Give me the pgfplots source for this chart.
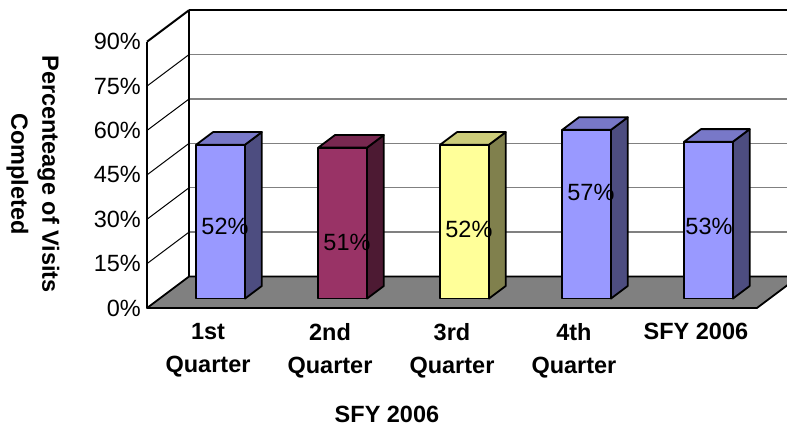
\documentclass[border=0pt]{standalone}
\usepackage{pgfplots}
\pgfplotsset{compat=1.18}
\usepackage{pgfplotstable}
\usepackage{fontspec}
\setmainfont{Liberation Sans}

\definecolor{floorgray}{RGB}{128,128,128}
\definecolor{gridgray}{RGB}{128,128,128}
\definecolor{fA}{RGB}{153,153,255}\definecolor{tA}{RGB}{120,120,200}\definecolor{sA}{RGB}{77,77,128}
\definecolor{fB}{RGB}{153,51,102}\definecolor{tB}{RGB}{120,40,80}\definecolor{sB}{RGB}{77,26,51}
\definecolor{fC}{RGB}{255,255,153}\definecolor{tC}{RGB}{204,204,122}\definecolor{sC}{RGB}{128,128,77}
\colorlet{face0}{fA}\colorlet{top0}{tA}\colorlet{side0}{sA}
\colorlet{face1}{fB}\colorlet{top1}{tB}\colorlet{side1}{sB}
\colorlet{face2}{fC}\colorlet{top2}{tC}\colorlet{side2}{sC}
\colorlet{face3}{fA}\colorlet{top3}{tA}\colorlet{side3}{sA}
\colorlet{face4}{fA}\colorlet{top4}{tA}\colorlet{side4}{sA}

\newcommand\lblfont{\fontsize{23.5}{33}\selectfont}

% values (percent of visits completed)
\pgfplotstableread{
idx val
0 52
1 51
2 52
3 57
4 53
}\bars

\def\dx{0.3443}
\def\dz{10.64}

\begin{document}
\begin{tikzpicture}
\begin{axis}[
  width=787pt, height=430pt, scale only axis,
  xmin=-1.2049, xmax=5.2459, ymin=-41.22, ymax=104.05,
  axis line style={draw=none}, major tick length=0pt,
  axis background/.style={fill=white},
  ytick={0,15,30,45,60,75,90},
  yticklabels={0\%,15\%,30\%,45\%,60\%,75\%,90\%},
  yticklabel style={anchor=east, xshift=141pt, inner sep=0pt, font=\lblfont},
  xtick={0.5,1.5,2.5,3.5,4.5},
  xticklabels={{1st\\Quarter},{2nd\\Quarter},{3rd\\Quarter},{4th\\Quarter},{SFY 2006}},
  xticklabel style={anchor=north, align=center, yshift=107pt, inner sep=0pt, font=\lblfont\bfseries},
  clip=true,
]
% back wall grid lines
\addplot[gridgray, line width=1.5pt] coordinates {(0.3443,25.64) (5.5,25.64)};
\addplot[gridgray, line width=1.5pt] coordinates {(0.3443,40.64) (5.5,40.64)};
\addplot[gridgray, line width=1.5pt] coordinates {(0.3443,55.64) (5.5,55.64)};
\addplot[gridgray, line width=1.5pt] coordinates {(0.3443,70.64) (5.5,70.64)};
\addplot[gridgray, line width=1.5pt] coordinates {(0.3443,85.64) (5.5,85.64)};
\addplot[black, line width=2pt] coordinates {(0.3443,100.64) (5.5,100.64)};
% left wall lines
\addplot[black, line width=1pt] coordinates {(0,15) (0.3443,25.64)};
\addplot[black, line width=1pt] coordinates {(0,30) (0.3443,40.64)};
\addplot[black, line width=1pt] coordinates {(0,45) (0.3443,55.64)};
\addplot[black, line width=1pt] coordinates {(0,60) (0.3443,70.64)};
\addplot[black, line width=1pt] coordinates {(0,75) (0.3443,85.64)};
\addplot[black, line width=2pt] coordinates {(0,90) (0.3443,100.64)};
\addplot[black, line width=2pt] coordinates {(0.3443,10.64) (0.3443,100.64)};
\addplot[black, line width=2pt] coordinates {(0,0) (0,90)};
% floor
\addplot[fill=floorgray, draw=black, line width=1.8pt, line join=round]
  coordinates {(0,0) (5,0) (5.3443,10.64) (0.3443,10.64)} -- cycle;
% bars
\pgfplotsinvokeforeach{0,...,4}{
  \pgfplotstablegetelem{#1}{val}\of\bars
  \pgfmathsetmacro\barv{\pgfplotsretval}
  \pgfmathsetmacro\BXa{#1+0.3+0.3*\dx}
  \pgfmathsetmacro\BXb{#1+0.7+0.3*\dx}
  \pgfmathsetmacro\BXc{#1+0.7+0.7*\dx}
  \pgfmathsetmacro\BXd{#1+0.3+0.7*\dx}
  \pgfmathsetmacro\BYa{0.3*\dz}
  \pgfmathsetmacro\BYb{\barv+0.3*\dz}
  \pgfmathsetmacro\BYc{\barv+0.7*\dz}
  \pgfmathsetmacro\BYd{0.7*\dz}
  \addplot[fill=side#1, draw=black, line width=1.8pt, line join=round]
    coordinates {(\BXb,\BYa) (\BXc,\BYd) (\BXc,\BYc) (\BXb,\BYb)} -- cycle;
  \addplot[fill=top#1, draw=black, line width=1.8pt, line join=round]
    coordinates {(\BXa,\BYb) (\BXb,\BYb) (\BXc,\BYc) (\BXd,\BYc)} -- cycle;
  \addplot[fill=face#1, draw=black, line width=1.8pt, line join=round]
    coordinates {(\BXa,\BYa) (\BXb,\BYa) (\BXb,\BYb) (\BXa,\BYb)} -- cycle;
}
% data labels
\node[font=\lblfont, inner sep=0pt] at (axis cs:0.639,27.7) {52\%};
\node[font=\lblfont, inner sep=0pt] at (axis cs:1.639,22.3) {51\%};
\node[font=\lblfont, inner sep=0pt] at (axis cs:2.639,26.7) {52\%};
\node[font=\lblfont, inner sep=0pt] at (axis cs:3.639,38.9) {57\%};
\node[font=\lblfont, inner sep=0pt] at (axis cs:4.607,27.7) {53\%};
% axis titles
\node[font=\fontsize{23.5}{31}\selectfont\bfseries, rotate=-90, align=center, inner sep=0pt]
  at (rel axis cs:0.0419,0.5953) {Percenteage of Visits\\Completed};
\node[font=\lblfont\bfseries, inner sep=0pt] at (rel axis cs:0.4917,0.0372) {SFY 2006};
\end{axis}
\end{tikzpicture}
\end{document}
